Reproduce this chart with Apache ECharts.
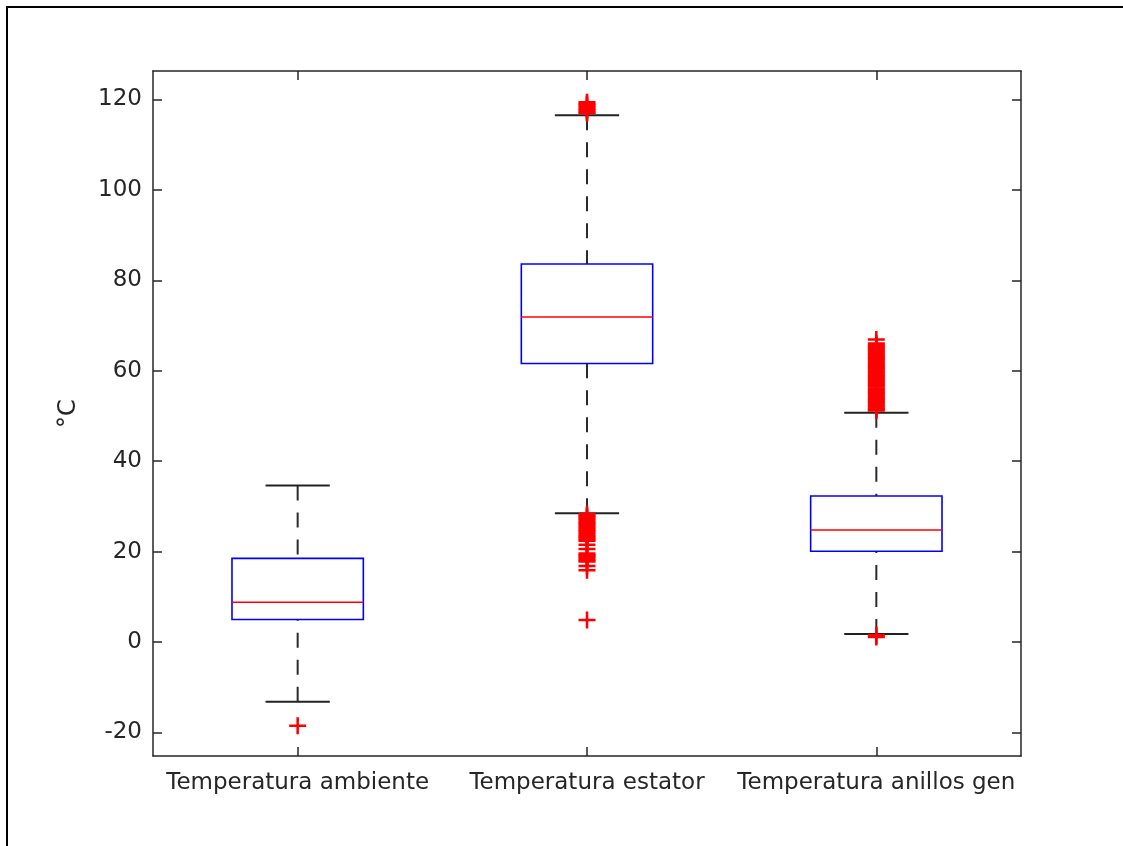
<!DOCTYPE html>
<html>
<head>
<meta charset="utf-8">
<script src="https://cdn.jsdelivr.net/npm/echarts@6/dist/echarts.min.js"></script>
<style>html,body{margin:0;padding:0;background:#fff;}#chart{width:1123px;height:846px;}</style>
</head>
<body>
<div id="chart"></div>
<script>
// ---- data ----
const categories = ['Temperatura ambiente', 'Temperatura estator', 'Temperatura anillos gen'];
const lowerWhisker = [-13.2, 28.5, 1.8];
const q1 = [5.0, 61.6, 20.1];
const median = [8.8, 71.9, 24.8];
const q3 = [18.5, 83.6, 32.3];
const upperWhisker = [34.6, 116.5, 50.7];
const outliersAmbiente = [-18.5];
const outliersEstator = [119.4, 119.0, 118.7, 118.3, 117.9, 117.6, 117.2, 117.0,
  28.3, 27.9, 27.6, 27.2, 26.8, 26.4, 26.1, 25.7, 25.3, 24.9, 24.6, 24.2, 23.8, 23.4, 23.1, 22.7, 22.4,
  21.5, 20.6, 19.6, 19.2, 18.9, 18.5, 18.1, 17.8, 16.8, 15.9, 4.9];
const outliersAnillos = [66.9, 66.0, 65.6, 65.2, 64.8, 64.5, 64.1, 63.7, 63.3, 62.9, 62.6, 62.2, 61.8,
  61.4, 61.0, 60.7, 60.3, 59.9, 59.5, 59.1, 58.8, 58.4, 58.0, 57.6, 57.2, 56.9, 56.5, 56.1, 55.7,
  55.3, 55.0, 54.6, 54.2, 53.8, 53.4, 53.1, 52.7, 52.3, 51.9, 51.5, 51.2, 1.5, 1.1];
const yTicks = [-20, 0, 20, 40, 60, 80, 100, 120];
const yMin = -25.2, yMax = 126.3;
const yName = '°C';

const boxData = categories.map((c, i) => [i, lowerWhisker[i], q1[i], median[i], q3[i], upperWhisker[i]]);
const outlierData = [].concat(
  outliersAmbiente.map(v => [0, v]),
  outliersEstator.map(v => [1, v]),
  outliersAnillos.map(v => [2, v])
);

const FONT = 'DejaVu Sans';
const AX = '#262626';

function renderBox(params, api) {
  const x = api.value(0);
  const band = api.size([1, 0])[0];
  const hb = band * 0.227, hc = band * 0.111;
  const pLw = api.coord([x, api.value(1)]);
  const pQ1 = api.coord([x, api.value(2)]);
  const pMed = api.coord([x, api.value(3)]);
  const pQ3 = api.coord([x, api.value(4)]);
  const pUw = api.coord([x, api.value(5)]);
  const cx = pQ1[0];
  const dash = { stroke: '#2a2a2a', lineWidth: 2, lineDash: [15, 12] };
  return {
    type: 'group',
    children: [
      { type: 'line', shape: { x1: cx, y1: pUw[1], x2: cx, y2: pQ3[1] }, style: dash },
      { type: 'line', shape: { x1: cx, y1: pLw[1], x2: cx, y2: pQ1[1] }, style: dash },
      { type: 'line', shape: { x1: cx - hc, y1: pUw[1], x2: cx + hc, y2: pUw[1] }, style: { stroke: '#222', lineWidth: 2 } },
      { type: 'line', shape: { x1: cx - hc, y1: pLw[1], x2: cx + hc, y2: pLw[1] }, style: { stroke: '#222', lineWidth: 2 } },
      { type: 'rect', shape: { x: cx - hb, y: pQ3[1], width: 2 * hb, height: pQ1[1] - pQ3[1] }, style: { fill: 'none', stroke: '#0000ff', lineWidth: 1.6 } },
      { type: 'line', shape: { x1: cx - hb, y1: pMed[1], x2: cx + hb, y2: pMed[1] }, style: { stroke: '#ff0000', lineWidth: 1.4 } }
    ]
  };
}

const chart = echarts.init(document.getElementById('chart'), null, { renderer: 'canvas' });
const baseY = {
  type: 'value', min: yMin, max: yMax, splitLine: { show: false },
  axisLine: { show: true, lineStyle: { color: AX, width: 1.5 } },
  axisTick: { show: true, inside: true, length: 9, customValues: yTicks, lineStyle: { color: AX, width: 1.5 } }
};
chart.setOption({
  backgroundColor: '#ffffff',
  animation: false,
  graphic: [{
    type: 'rect', shape: { x: 7, y: 7, width: 1300, height: 1000 },
    style: { fill: 'none', stroke: '#000', lineWidth: 2 }, silent: true, z: 100
  }],
  grid: { left: 153, right: 102, top: 71, bottom: 90, containLabel: false },
  xAxis: [{
    type: 'category', data: categories, position: 'bottom',
    axisLine: { show: true, onZero: false, lineStyle: { color: AX, width: 1.5 } },
    axisTick: { show: true, inside: true, length: 9, alignWithLabel: true, interval: 0, lineStyle: { color: AX, width: 1.5 } },
    axisLabel: { color: AX, fontFamily: FONT, fontSize: 23, margin: 16, interval: 0, hideOverlap: false },
    splitLine: { show: false }
  }, {
    type: 'category', data: categories, position: 'top',
    axisLine: { show: true, onZero: false, lineStyle: { color: AX, width: 1.5 } },
    axisTick: { show: true, inside: true, length: 9, alignWithLabel: true, interval: 0, lineStyle: { color: AX, width: 1.5 } },
    axisLabel: { show: false }, splitLine: { show: false }
  }],
  yAxis: [Object.assign({}, baseY, {
    position: 'left',
    name: yName, nameLocation: 'middle', nameGap: 72, nameRotate: 90,
    nameTextStyle: { color: AX, fontFamily: FONT, fontSize: 24 },
    axisLabel: { color: AX, fontFamily: FONT, fontSize: 23, margin: 11, customValues: yTicks }
  }), Object.assign({}, baseY, {
    position: 'right', axisLabel: { show: false }
  })],
  series: [{
    type: 'custom', renderItem: renderBox, data: boxData,
    encode: { x: 0, y: [1, 2, 3, 4, 5] }, z: 2, silent: true
  }, {
    type: 'scatter', data: outlierData, z: 3, silent: true,
    symbol: 'path://M6.8,0H9.2V6.8H16V9.2H9.2V16H6.8V9.2H0V6.8H6.8Z', symbolSize: 17,
    itemStyle: { color: '#ff0000', opacity: 1 }
  }]
});
</script>
</body>
</html>
